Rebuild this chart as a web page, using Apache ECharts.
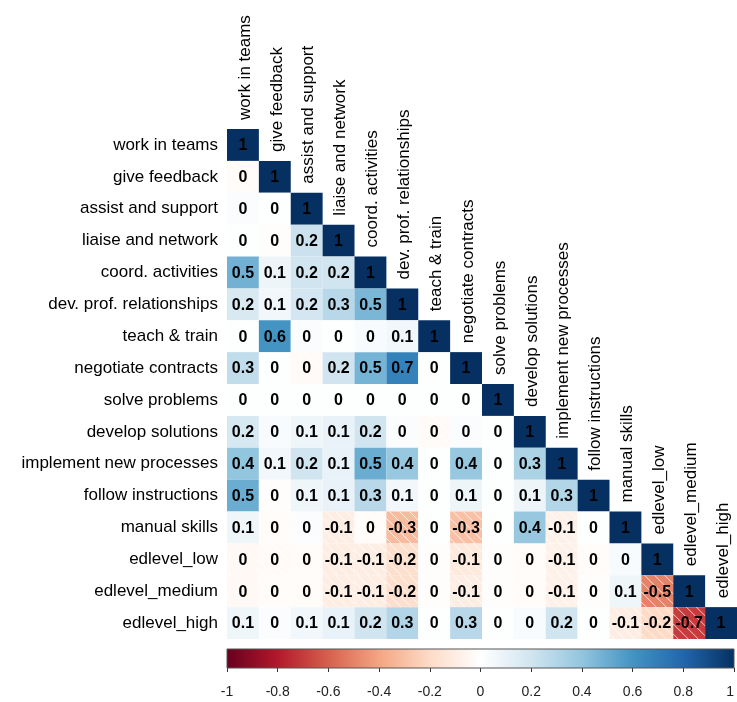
<!DOCTYPE html>
<html>
<head>
<meta charset="utf-8">
<script src="https://cdn.jsdelivr.net/npm/echarts@6/dist/echarts.min.js"></script>
<style>
html,body{margin:0;padding:0;background:#fff;}
#chart{width:737px;height:702px;}
</style>
</head>
<body>
<div id="chart"></div>
<script>
const variables = ['work in teams','give feedback','assist and support','liaise and network','coord. activities','dev. prof. relationships','teach & train','negotiate contracts','solve problems','develop solutions','implement new processes','follow instructions','manual skills','edlevel_low','edlevel_medium','edlevel_high'];

// lower-triangular correlation matrix (row i, columns 0..i)
const corrRows = [
  [1],
  [-0.02, 1],
  [0.02, 0.01, 1],
  [0.01, -0.01, 0.22, 1],
  [0.48, 0.08, 0.2, 0.2, 1],
  [0.17, 0.06, 0.19, 0.28, 0.46, 1],
  [0.01, 0.6, 0.02, 0.01, 0.03, 0.06, 1],
  [0.25, 0.01, -0.03, 0.2, 0.47, 0.68, 0.01, 1],
  [0.01, 0.01, 0.01, 0.01, 0.01, 0.01, 0.01, 0.01, 1],
  [0.18, 0.03, 0.07, 0.1, 0.2, 0.02, -0.03, 0.02, 0.01, 1],
  [0.4, 0.06, 0.2, 0.1, 0.5, 0.38, 0.01, 0.38, 0.01, 0.32, 1],
  [0.5, -0.01, 0.07, 0.1, 0.28, 0.06, 0.01, 0.08, 0.01, 0.08, 0.3, 1],
  [0.07, -0.02, 0.02, -0.1, -0.02, -0.32, 0.01, -0.3, 0.01, 0.38, -0.08, 0.01, 1],
  [-0.04, -0.03, -0.02, -0.1, -0.1, -0.18, -0.01, -0.12, -0.01, -0.02, -0.08, -0.02, 0.03, 1],
  [-0.04, -0.02, -0.02, -0.1, -0.1, -0.18, -0.01, -0.1, -0.01, -0.02, -0.08, -0.01, 0.07, -0.5, 1],
  [0.07, 0.02, 0.06, 0.1, 0.2, 0.3, 0.01, 0.28, 0.01, 0.03, 0.2, 0.01, -0.1, -0.2, -0.7, 1]
];

const colorbarRange = [-1, 1];
const colorbarTickStep = 0.2;

const palette = ['#67001F','#B2182B','#D6604D','#F4A582','#FDDBC7','#FFFFFF','#D1E5F0','#92C5DE','#4393C3','#2166AC','#053061'];
const FONT = "'Liberation Sans', Arial, sans-serif";

function hexToRgb(h){ return [parseInt(h.substr(1,2),16),parseInt(h.substr(3,2),16),parseInt(h.substr(5,2),16)]; }
const palRgb = palette.map(hexToRgb);
function colorFor(v){
  const t = Math.max(0, Math.min(1, (v + 1) / 2)) * (palette.length - 1);
  const i = Math.min(palette.length - 2, Math.floor(t));
  const f = t - i;
  const a = palRgb[i], b = palRgb[i+1];
  const c = a.map((x,k)=>Math.round(x + (b[k]-x)*f));
  return 'rgb(' + c.join(',') + ')';
}

const cellData = [];
corrRows.forEach((row, i) => row.forEach((v, j) => cellData.push([j, i, v])));

const chart = echarts.init(document.getElementById('chart'), null, {renderer:'canvas'});

function renderCell(params, api){
  const x = api.value(0), y = api.value(1), v = api.value(2);
  const c = api.coord([x, y]);
  const s = api.size([1, 1]);
  const w = s[0], h = s[1];
  const x0 = c[0] - w/2, y0 = c[1] - h/2;
  const children = [{
    type:'rect', shape:{x:x0, y:y0, width:w, height:h},
    style:{fill:colorFor(v)}
  }];
  if (v < 0) {
    const step = 10;
    for (let k = -w + step/2; k < w; k += step) {
      const sx = Math.max(0, k), sy = Math.max(0, -k);
      const ex = Math.min(w, h + k), ey = Math.min(h, w - k);
      if (ex - sx < 1) continue;
      children.push({type:'line', shape:{x1:x0+sx, y1:y0+sy, x2:x0+ex, y2:y0+ey},
        style:{stroke:'rgba(255,255,255,0.75)', lineWidth:1}});
    }
  }
  const r = Math.round(v * 10) / 10;
  const label = (r === 0) ? '0' : String(r);
  children.push({type:'text', x:c[0], y:c[1]+1,
    style:{text:label, fill:'#000', font:'bold 16px ' + FONT, align:'center', verticalAlign:'middle'}});
  return {type:'group', children};
}

function renderColLabel(params, api){
  const j = api.value(0);
  const c = api.coord([j, j]);
  const s = api.size([1, 1]);
  return {type:'text', x:c[0] + 2, y:c[1] - s[1]/2 - 9, rotation:Math.PI/2,
    style:{text:variables[j], fill:'#000', font:'17px ' + FONT, align:'left', verticalAlign:'middle'}};
}

function renderBar(params, api){
  const a = api.coord([api.value(0), 0]);
  const b = api.coord([api.value(1), 1]);
  const stops = palette.map((col, k) => ({offset:k/(palette.length-1), color:col}));
  return {type:'rect', shape:{x:a[0], y:b[1], width:b[0]-a[0], height:a[1]-b[1]},
    style:{fill:new echarts.graphic.LinearGradient(0,0,1,0,stops), stroke:'#555', lineWidth:1}};
}

chart.setOption({
  animation:false,
  backgroundColor:'#fff',
  grid:[
    {left:227, top:129, width:510, height:510},
    {left:227, top:649, width:510, height:19}
  ],
  xAxis:[
    {gridIndex:0, type:'category', data:variables, show:false},
    {gridIndex:1, type:'value', min:colorbarRange[0], max:colorbarRange[1], interval:colorbarTickStep,
      axisLine:{show:false}, splitLine:{show:false},
      axisTick:{show:true, length:4, lineStyle:{color:'#333'}},
      axisLabel:{fontSize:14, fontFamily:FONT, color:'#222', margin:17, alignMaxLabel:'right',
        formatter:v => String(Math.round(v*10)/10)}}
  ],
  yAxis:[
    {gridIndex:0, type:'category', data:variables, inverse:true,
      axisLine:{show:false}, axisTick:{show:false}, splitLine:{show:false},
      axisLabel:{fontSize:17, fontFamily:FONT, color:'#000', margin:9}},
    {gridIndex:1, type:'value', min:0, max:1, show:false}
  ],
  series:[
    {type:'custom', xAxisIndex:0, yAxisIndex:0, data:cellData, renderItem:renderCell, clip:false},
    {type:'custom', xAxisIndex:0, yAxisIndex:0, data:variables.map((n,j)=>[j,j]), renderItem:renderColLabel, clip:false},
    {type:'custom', xAxisIndex:1, yAxisIndex:1, data:[colorbarRange], renderItem:renderBar, clip:false}
  ]
});
</script>
</body>
</html>
